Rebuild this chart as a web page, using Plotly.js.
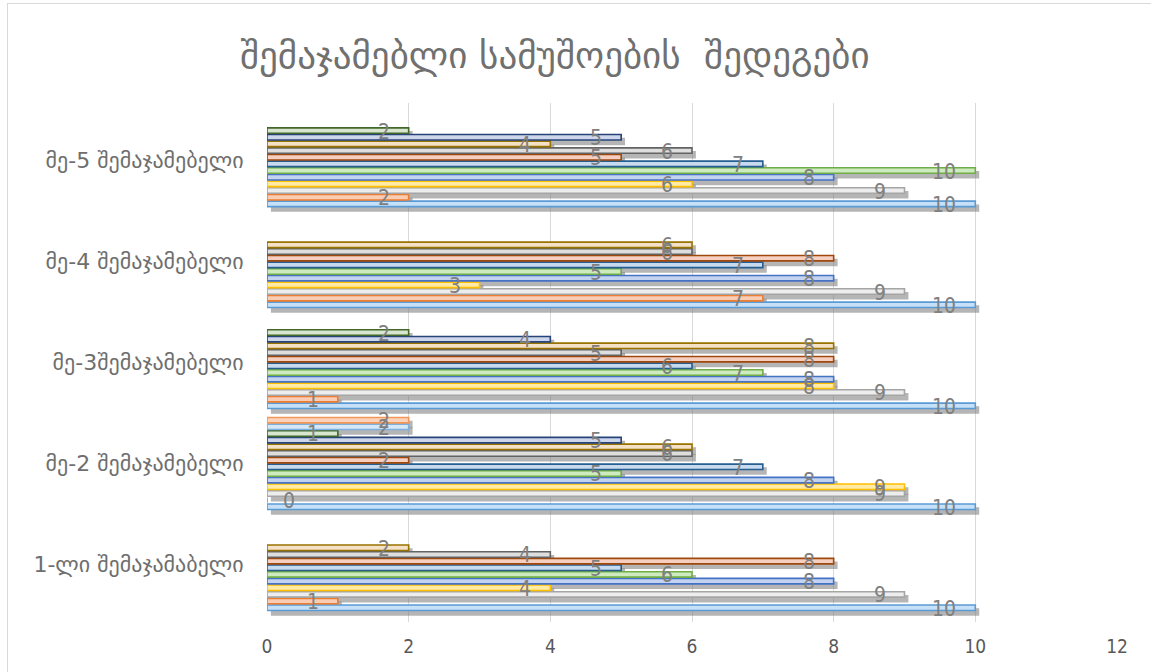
<!DOCTYPE html>
<html>
<head>
<meta charset="utf-8">
<script src="https://cdn.plot.ly/plotly-3.0.1.min.js"></script>
<style>
  html, body { margin: 0; padding: 0; background: #fff; overflow: hidden; }
  #wrap { position: relative; width: 1151px; height: 672px; }
  #chart { position: absolute; left: 0; top: 0; width: 1151px; height: 672px; }
  #frame { position: absolute; left: 7px; top: 3px; width: 1200px; height: 720px;
           border: 1px solid #D9D9D9; box-sizing: border-box; pointer-events: none; }
</style>
</head>
<body>
<div id="wrap"><div id="chart"></div><div id="frame"></div></div>
<script>
// ---- data ----
const categories = ["1-ლი შემაჯამაბელი", "მე-2 შემაჯამებელი", "მე-3შემაჯამებელი", "მე-4 შემაჯამებელი", "მე-5 შემაჯამებელი"];
const s1  = [10, 10, 10, 10, 10];
const s2  = [1, 0, 1, 7, 2];
const s3  = [9, 9, 9, 9, 9];
const s4  = [4, 9, 8, 3, 6];
const s5  = [8, 8, 8, 8, 8];
const s6  = [6, 5, 7, 5, 10];
const s7  = [5, 7, 6, 7, 7];
const s8  = [8, 2, 8, 8, 5];
const s9  = [4, 6, 5, 6, 6];
const s10 = [2, 6, 8, 6, 4];
const s11 = [null, 5, 4, null, 5];
const s12 = [null, 1, 2, null, 2];
const s13 = [null, 2, null, null, null];
const s14 = [null, 2, null, null, null];
const xTicks = [0, 2, 4, 6, 8, 10, 12];

const seriesValues = [s1, s2, s3, s4, s5, s6, s7, s8, s9, s10, s11, s12, s13, s14];
const lineColors = ["#5B9BD5", "#ED7D31", "#A5A5A5", "#FFC000", "#4472C4", "#70AD47",
                    "#255E91", "#9E480E", "#636363", "#997300", "#264478", "#43682B",
                    "#7CAFDD", "#F1975A"];
const fillColors = ["#C6E0F7", "#F9CDB3", "#EDEDED", "#FFEAA6", "#C3D3F0", "#CDEBBE",
                    "#C8DAEE", "#F6CFC0", "#DEDEDE", "#F4E1C6", "#CDD6EA", "#D8E6CF",
                    "#D6E7F6", "#FBD3BA"];

// ---- layout helpers ----
const nS = seriesValues.length;
const step = 0.066;      // spacing between series within a category
const barW = 0.054;
const shY = 0.042;       // shadow offset downward
const shX = 0.055;       // shadow offset right

function yPos(ci, si) { return ci + (si - (nS - 1) / 2) * step; }

const traces = [];
// shadows first
seriesValues.forEach((vals, si) => {
  traces.push({
    type: "bar", orientation: "h",
    x: vals, y: vals.map((v, ci) => yPos(ci, si) - shY),
    base: shX, width: barW + 0.02,
    marker: { color: "rgba(120,120,120,0.55)", line: { width: 0 } },
    hoverinfo: "skip", showlegend: false
  });
});
// bars
seriesValues.forEach((vals, si) => {
  traces.push({
    type: "bar", orientation: "h",
    x: vals, y: vals.map((v, ci) => yPos(ci, si)),
    width: barW,
    marker: { color: fillColors[si], line: { color: lineColors[si], width: 1.6 } },
    name: "Series " + (si + 1),
    hoverinfo: "x", showlegend: false
  });
});

// value labels
const annotations = [];
seriesValues.forEach((vals, si) => {
  vals.forEach((v, ci) => {
    if (v === null) return;
    annotations.push({
      x: v, y: yPos(ci, si), xref: "x", yref: "y",
      text: String(v), showarrow: false,
      xanchor: v === 0 ? "left" : "right",
      xshift: v === 0 ? 14 : -17, yshift: -1,
      font: { family: "Liberation Sans Narrow, DejaVu Sans Condensed, Arial Narrow, sans-serif", size: 21, color: "#808080" }
    });
  });
});

const layout = {
  width: 1151, height: 672,
  margin: { l: 267, r: 34, t: 103, b: 50 },
  paper_bgcolor: "#ffffff", plot_bgcolor: "#ffffff",
  barmode: "overlay",
  title: {
    text: "შემაჯამებლი სამუშოების  შედეგები",
    x: 0.482, xanchor: "center", y: 0.918, yanchor: "middle",
    font: { family: "DejaVu Sans, sans-serif", size: 37, color: "#707070" }
  },
  xaxis: {
    range: [0, 12], tickvals: xTicks, ticktext: xTicks.map(String),
    showgrid: true, gridcolor: "#D9D9D9", gridwidth: 1,
    zeroline: false, showline: false, ticks: "outside", ticklen: 7, tickcolor: "rgba(0,0,0,0)",
    tickfont: { family: "Liberation Sans Narrow, DejaVu Sans Condensed, sans-serif", size: 19, color: "#595959" },
    fixedrange: true
  },
  yaxis: {
    range: [-0.57, 4.57],
    tickvals: categories.map((c, i) => i), ticktext: categories,
    showgrid: false, zeroline: false, showline: false,
    ticks: "outside", ticklen: 18, tickcolor: "rgba(0,0,0,0)",
    tickfont: { family: "DejaVu Sans, sans-serif", size: 22, color: "#6E6E6E" },
    fixedrange: true
  },
  annotations: annotations,
  showlegend: false
};

Plotly.newPlot("chart", traces, layout, { displayModeBar: false, staticPlot: true });
</script>
</body>
</html>
